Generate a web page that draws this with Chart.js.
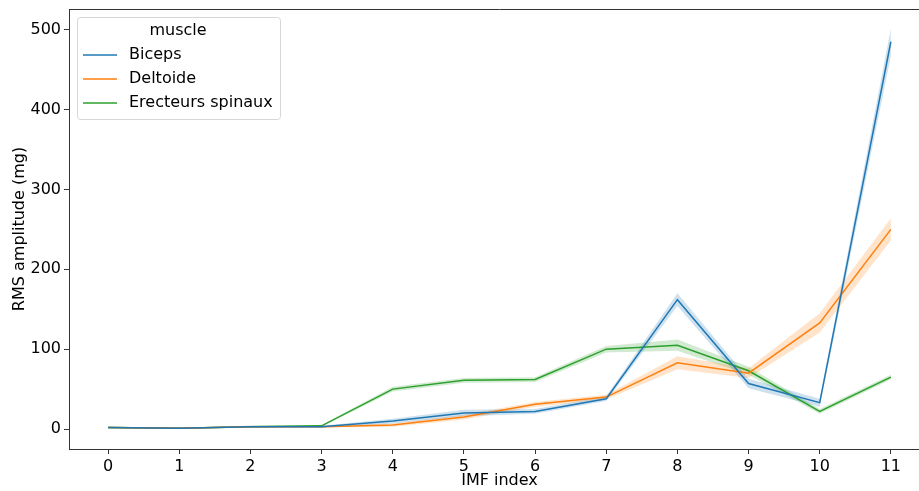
<!DOCTYPE html>
<html>
<head>
<meta charset="utf-8">
<script src="https://cdn.jsdelivr.net/npm/chart.js@4.4.0/dist/chart.umd.min.js"></script>
<style>
  html, body { margin: 0; padding: 0; background: #fff; overflow: hidden; }
  #wrap { position: absolute; left: 0; top: 0; width: 935px; height: 491px; }
</style>
</head>
<body>
<div id="wrap"><canvas id="rmsChart" width="935" height="491"></canvas></div>
<script>
// data
const imfIndex = [0, 1, 2, 3, 4, 5, 6, 7, 8, 9, 10, 11];
const muscles = ['Biceps', 'Deltoide', 'Erecteurs spinaux'];

const bicepsMean = [2, 1, 3, 3, 10, 20, 22, 38, 162, 57, 33, 485];
const bicepsLow  = [1, 0.5, 2, 2, 7, 16, 19, 35, 154, 51, 28, 467];
const bicepsHigh = [3, 1.5, 4, 4, 13, 24, 25, 41, 170, 63, 38, 502];

const deltoideMean = [2, 1, 3, 3, 5, 15, 31, 40, 83, 70, 133, 250];
const deltoideLow  = [1, 0.5, 2, 2, 3, 12, 28, 37, 75, 64, 121, 236];
const deltoideHigh = [3, 1.5, 4, 4, 7, 18, 34, 43, 91, 76, 145, 264];

const erecteursMean = [2, 1, 3, 4, 50, 61, 62, 100, 105, 73, 22, 65];
const erecteursLow  = [1, 0.5, 2, 3, 47, 58, 59, 96, 98, 68, 19, 62];
const erecteursHigh = [3, 1.5, 4, 5, 53, 64, 65, 104, 112, 78, 25, 68];

const yTicks = [0, 100, 200, 300, 400, 500];

const lineColors = ['#1f77b4', '#ff7f0e', '#2ca02c'];
const bandColors = ['rgba(31,119,180,0.22)', 'rgba(255,127,14,0.22)', 'rgba(44,160,44,0.22)'];

const means = [bicepsMean, deltoideMean, erecteursMean];
const lows = [bicepsLow, deltoideLow, erecteursLow];
const highs = [bicepsHigh, deltoideHigh, erecteursHigh];

function pts(arr) {
    return imfIndex.map((x, i) => ({ x: x, y: arr[i] }));
}

const datasets = [];
muscles.forEach((name, i) => {
    datasets.push({
        label: name + ' high',
        data: pts(highs[i]),
        borderWidth: 0,
        pointRadius: 0,
        backgroundColor: bandColors[i],
        fill: '+1',
        order: 1
    });
    datasets.push({
        label: name + ' low',
        data: pts(lows[i]),
        borderWidth: 0,
        pointRadius: 0,
        fill: false,
        order: 1
    });
    datasets.push({
        label: name,
        data: pts(means[i]),
        borderColor: lineColors[i],
        borderWidth: 1.5,
        pointRadius: 0,
        fill: false,
        order: 0
    });
});

// legend box + top spine, matplotlib style
const legendBox = {
    id: 'legendBox',
    afterDraw(chart) {
        const { ctx, chartArea } = chart;
        ctx.save();
        ctx.strokeStyle = '#333';
        ctx.lineWidth = 1;
        ctx.beginPath();
        ctx.moveTo(chartArea.left, chartArea.top + 0.5);
        ctx.lineTo(chartArea.right, chartArea.top + 0.5);
        ctx.stroke();

        const x = 77.5, y = 17.5, w = 203, h = 102, r = 3;
        ctx.beginPath();
        ctx.roundRect(x, y, w, h, r);
        ctx.fillStyle = 'rgba(255,255,255,0.8)';
        ctx.fill();
        ctx.strokeStyle = '#d6d6d6';
        ctx.stroke();

        ctx.font = '16px "DejaVu Sans"';
        ctx.fillStyle = '#000';
        ctx.textBaseline = 'middle';
        ctx.textAlign = 'center';
        ctx.fillText('muscle', 178, 31);
        ctx.textAlign = 'left';
        muscles.forEach((name, i) => {
            const ly = 55 + i * 24;
            ctx.strokeStyle = lineColors[i];
            ctx.lineWidth = 1.5;
            ctx.beginPath();
            ctx.moveTo(83, ly);
            ctx.lineTo(117, ly);
            ctx.stroke();
            ctx.fillText(name, 129, ly);
        });
        ctx.restore();
    }
};

Chart.defaults.font.family = '"DejaVu Sans", sans-serif';
Chart.defaults.font.size = 16;
Chart.defaults.color = '#000';

const rmsChart = new Chart(document.getElementById('rmsChart'), {
    type: 'line',
    data: { datasets: datasets },
    options: {
        responsive: false,
        animation: false,
        devicePixelRatio: 1,
        layout: { padding: { top: 9, right: 5, left: 0, bottom: 0 } },
        plugins: {
            legend: { display: false },
            tooltip: { enabled: false }
        },
        scales: {
            x: {
                type: 'linear',
                min: -0.55,
                max: 11.55,
                border: { display: true, color: '#333', width: 1 },
                grid: { drawOnChartArea: false, tickLength: 5, color: '#333' },
                ticks: { padding: 3, autoSkip: false, maxRotation: 0, callback: v => v },
                afterBuildTicks: scale => { scale.ticks = imfIndex.map(v => ({ value: v })); },
                afterFit: scale => {
                    scale.height = 42;
                    scale.paddingLeft = 0;
                    scale.paddingRight = 0;
                },
                title: { display: true, text: 'IMF index', padding: { top: 0, bottom: 1 } }
            },
            y: {
                type: 'linear',
                min: -25,
                max: 526,
                border: { display: true, color: '#333', width: 1 },
                grid: { drawOnChartArea: false, tickLength: 5, color: '#333' },
                ticks: { padding: 3, callback: v => v },
                afterBuildTicks: scale => { scale.ticks = yTicks.map(v => ({ value: v })); },
                afterFit: scale => {
                    scale.width = 69;
                    scale.paddingTop = 0;
                    scale.paddingBottom = 0;
                },
                title: { display: true, text: 'RMS amplitude (mg)', padding: { top: 10, bottom: 0 } }
            }
        }
    },
    plugins: [legendBox]
});
</script>
</body>
</html>
